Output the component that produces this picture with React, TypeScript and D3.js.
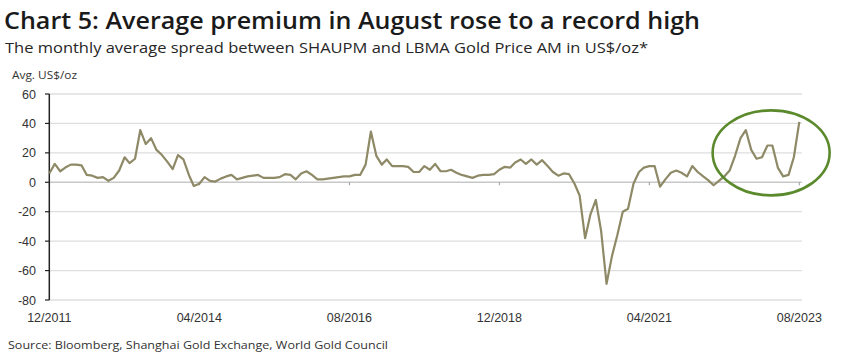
import React from "react";
import * as d3 from "d3";

const title = "Chart 5: Average premium in August rose to a record high";
const subtitle = "The monthly average spread between SHAUPM and LBMA Gold Price AM in US$/oz*";
const yAxisLabel = "Avg. US$/oz";
const source = "Source: Bloomberg, Shanghai Gold Exchange, World Gold Council";

// Monthly values, Dec 2011 .. Aug 2023
const premium: number[] = [
  6, 12.5, 7.5, 10, 12, 12, 11.5, 5, 4.5, 3,
  3.5, 1, 3, 8, 17, 13, 16, 35.5, 26, 30,
  22, 18.5, 14, 9, 18.5, 15.5, 5, -2.5, -1, 3.5,
  1, 0.5, 2.5, 4, 5, 2, 3, 4, 4.5, 5,
  3, 3, 3, 3.5, 5.5, 5, 2, 6, 7.5, 5,
  2, 2, 2.5, 3, 3.5, 4, 4, 5, 5, 12,
  34.5, 18, 12, 15.5, 11, 11, 11, 10.5, 7, 7,
  11, 8.5, 12.5, 7.5, 7.5, 8.5, 6.5, 5, 4, 3,
  4.5, 5, 5, 5.5, 8.5, 10.5, 10, 13.5, 15.5, 12.5,
  15.5, 12, 15, 11, 7, 4.5, 6, 5.5, -1, -9,
  -38, -22, -12, -33, -69, -50, -36, -20, -18, -1,
  7, 10, 11, 11, -3, 2, 6.5, 8, 6.5, 4,
  11, 7, 4, 1.5, -2, 1, 4, 8, 18, 30,
  35.5, 22, 16, 17, 25, 25, 10, 4, 5, 17,
  41,
];
const startYear = 2011;
const startMonth = 11; // December (0-based)
const dates: Date[] = premium.map((_, i) => new Date(startYear, startMonth + i, 1));

const yTicks: number[] = [60, 40, 20, 0, -20, -40, -60, -80];
const xTickLabels: string[] = ["12/2011", "04/2014", "08/2016", "12/2018", "04/2021", "08/2023"];
const xTickDates: Date[] = xTickLabels.map((s) => {
  const [m, y] = s.split("/").map(Number);
  return new Date(y, m - 1, 1);
});

// highlight ellipse around the most recent months
const highlightCenterDate = new Date(2023, 1, 22);
const highlightCenterValue = 20;

export default function App() {
  const W = 848;
  const H = 357;
  const x = d3.scaleTime().domain([dates[0], dates[dates.length - 1]]).range([49.3, 799.3]);
  const y = d3.scaleLinear().domain([60, -80]).range([94, 300]);
  const line = d3
    .line<number>()
    .x((_, i) => x(dates[i]))
    .y((d) => y(d));
  const gridRight = 802;
  const font = "'Liberation Sans', Arial, sans-serif";
  const titleFont = "'Open Sans', 'Noto Sans', sans-serif";

  return (
    <svg width={W} height={H} style={{ position: "absolute", left: 0, top: 0, background: "#fff" }}>
      <rect width={W} height={H} fill="#fff" />
      <text x={4} y={29} fontFamily={titleFont} fontSize={23} fontWeight={600} fill="#1a1a1a" textLength={696} lengthAdjust="spacingAndGlyphs">
        {title}
      </text>
      <text x={5} y={53} fontFamily={titleFont} fontSize={15} fill="#262626" textLength={643} lengthAdjust="spacingAndGlyphs">
        {subtitle}
      </text>
      <text x={12} y={79} fontFamily={titleFont} fontSize={11.5} fill="#333" textLength={65} lengthAdjust="spacingAndGlyphs">
        {yAxisLabel}
      </text>

      {yTicks.map((t) => (
        <g key={t}>
          <line x1={49.3} x2={gridRight} y1={y(t)} y2={y(t)} stroke={t === 0 ? "#c8c8c8" : "#dedede"} strokeWidth={t === 0 ? 1.6 : 1.3} />
          <line x1={45} x2={49.3} y1={y(t)} y2={y(t)} stroke="#222" strokeWidth={1.2} />
          <text x={36} y={y(t) + 4.5} textAnchor="end" fontFamily={font} fontSize={12.5} fill="#333">
            {t}
          </text>
        </g>
      ))}
      {xTickDates.map((d, i) => (
        <g key={xTickLabels[i]}>
          <line x1={x(d)} x2={x(d)} y1={y(0)} y2={y(0) + 3} stroke="#999" strokeWidth={1} />
          <text x={x(d)} y={322} textAnchor="middle" fontFamily={font} fontSize={12.5} fill="#333">
            {xTickLabels[i]}
          </text>
        </g>
      ))}
      <line x1={49.3} x2={49.3} y1={y(60)} y2={y(-80)} stroke="#222" strokeWidth={1.5} />

      <path d={line(premium) || ""} fill="none" stroke="#8e8966" strokeWidth={2.2} strokeLinejoin="round" />

      <ellipse cx={x(highlightCenterDate)} cy={y(highlightCenterValue)} rx={58.5} ry={42.5} fill="none" stroke="#5b8a2c" strokeWidth={2.6} />

      <text x={8} y={349} fontFamily={titleFont} fontSize={11} fill="#333" textLength={380} lengthAdjust="spacingAndGlyphs">
        {source}
      </text>
    </svg>
  );
}
